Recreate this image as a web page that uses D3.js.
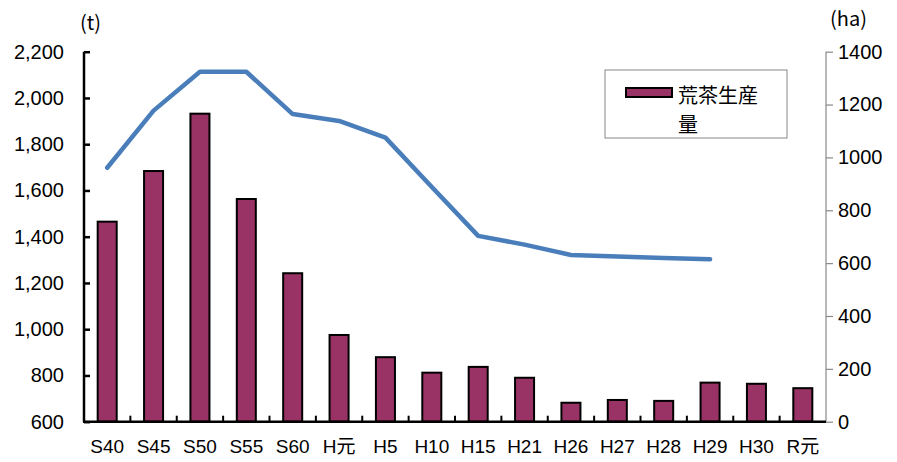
<!DOCTYPE html>
<html>
<head>
<meta charset="UTF-8">
<script src="https://d3js.org/d3.v7.min.js"></script>
<style>
  body { margin: 0; background: #fff; }
  text { font-family: "Liberation Sans", Arial, "Noto Sans CJK JP", sans-serif; fill: #000; }
</style>
</head>
<body>
<script>
// categories (years)
var categories = ["S40","S45","S50","S55","S60","H元","H5","H10","H15","H21","H26","H27","H28","H29","H30","R元"];
// 荒茶生産量 (t) - bars, left axis
var production = [1465,1684,1932,1563,1242,975,879,812,837,790,682,694,690,769,764,745];
// 茶園面積 (ha) - line, right axis (no data for H30, R元)
var area = [961,1177,1324,1324,1164,1138,1075,888,703,670,631,625,619,615,null,null];
var leftTicks = [600,800,1000,1200,1400,1600,1800,2000,2200];
var rightTicks = [0,200,400,600,800,1000,1200,1400];
var legendLabel = ["荒茶生産", "量"];

var width = 897, height = 462;
var plotL = 84, plotR = 826, plotT = 51.7, plotB = 421.7;

var svg = d3.select("body").append("svg")
  .attr("width", width).attr("height", height);

var x = d3.scaleBand().domain(categories).range([plotL, plotR]).padding(0);
var yL = d3.scaleLinear().domain([600, 2200]).range([plotB, plotT]);
var yR = d3.scaleLinear().domain([0, 1400]).range([plotB, plotT]);

var bw = x.bandwidth() * 0.41;

// bars
svg.selectAll("rect.bar")
  .data(production)
  .join("rect")
  .attr("class", "bar")
  .attr("x", function(d, i) { return x(categories[i]) + (x.bandwidth() - bw) / 2; })
  .attr("y", function(d) { return yL(d); })
  .attr("width", bw)
  .attr("height", function(d) { return plotB - yL(d); })
  .attr("fill", "#993366")
  .attr("stroke", "#000")
  .attr("stroke-width", 2);

// line
var line = d3.line()
  .defined(function(d) { return d != null; })
  .x(function(d, i) { return x(categories[i]) + x.bandwidth() / 2; })
  .y(function(d) { return yR(d); });

svg.append("path")
  .datum(area)
  .attr("d", line)
  .attr("fill", "none")
  .attr("stroke", "#4a7ebb")
  .attr("stroke-width", 4.5)
  .attr("stroke-linejoin", "round")
  .attr("stroke-linecap", "round");

// left axis
var gL = svg.append("g").attr("transform", "translate(" + plotL + ",0)")
  .call(d3.axisLeft(yL).tickValues(leftTicks).tickSize(-6).tickPadding(20).tickFormat(d3.format(",")));
gL.select(".domain").attr("stroke", "#000").attr("stroke-width", 2.5).attr("d", "M0," + plotT + "V" + plotB);
gL.selectAll(".tick line").attr("stroke", "#000").attr("stroke-width", 2.5);
gL.selectAll(".tick text").attr("font-size", 20).attr("x", -20);

// right axis
var gR = svg.append("g").attr("transform", "translate(" + plotR + ",0)")
  .call(d3.axisRight(yR).tickValues(rightTicks).tickSize(7).tickPadding(5).tickFormat(d3.format("d")));
gR.select(".domain").attr("stroke", "#888").attr("stroke-width", 1.2).attr("d", "M0," + plotT + "V" + plotB);
gR.selectAll(".tick line").attr("stroke", "#888").attr("stroke-width", 1.2);
gR.selectAll(".tick text").attr("font-size", 20);

// x axis
var gX = svg.append("g").attr("transform", "translate(0," + plotB + ")")
  .call(d3.axisBottom(x).tickSize(0).tickPadding(18));
gX.select(".domain").remove();
gX.append("line").attr("x1", plotL - 1).attr("x2", plotR).attr("stroke", "#000").attr("stroke-width", 2.5);
gX.selectAll(".tick text").attr("font-size", 19).attr("dy", "0.71em");
// category separators
gX.selectAll("line.sep")
  .data(categories.slice(1))
  .join("line")
  .attr("class", "sep")
  .attr("x1", function(d) { return x(d); })
  .attr("x2", function(d) { return x(d); })
  .attr("y1", 0).attr("y2", -6)
  .attr("stroke", "#000").attr("stroke-width", 2);

// units
svg.append("text").attr("x", 80).attr("y", 30).attr("font-size", 20)
  .style("font-family", "'Noto Sans CJK JP', sans-serif").text("(t)");
svg.append("text").attr("x", 830).attr("y", 26).attr("font-size", 20)
  .style("font-family", "'Noto Sans CJK JP', sans-serif").text("(ha)");

// legend
var lg = svg.append("g");
lg.append("rect").attr("x", 605).attr("y", 70).attr("width", 182).attr("height", 68)
  .attr("fill", "#fff").attr("stroke", "#888").attr("stroke-width", 1);
lg.append("rect").attr("x", 626).attr("y", 88).attr("width", 46).attr("height", 9)
  .attr("fill", "#993366").attr("stroke", "#000").attr("stroke-width", 2);
lg.selectAll("text.lab")
  .data(legendLabel)
  .join("text")
  .attr("class", "lab")
  .attr("x", 678)
  .attr("y", function(d, i) { return 103 + i * 29; })
  .attr("font-size", 20)
  .style("font-family", "'Noto Sans CJK JP', sans-serif")
  .text(function(d) { return d; });
</script>
</body>
</html>
